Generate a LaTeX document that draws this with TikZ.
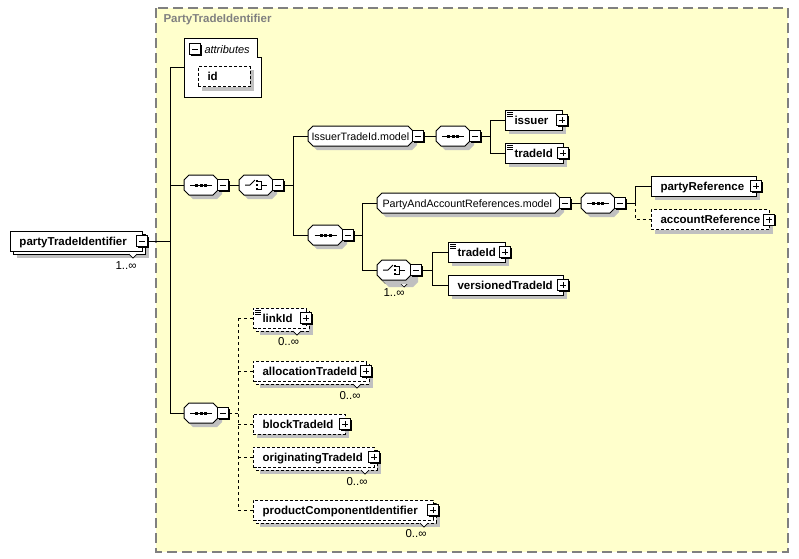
\documentclass[tikz,border=0pt]{standalone}
\usepackage{fontspec}
\setmainfont{Liberation Sans}
\usetikzlibrary{calc}
\definecolor{bgc}{RGB}{255,255,204}
\definecolor{shadowc}{RGB}{192,192,192}
\definecolor{framec}{RGB}{128,128,128}
\tikzset{
  ebox/.style={draw, fill=white, inner sep=0, outer sep=0, minimum height=20pt},
  optb/.style={dash pattern=on 3pt off 2pt},
  optl/.style={dash pattern=on 3pt off 3pt},
  sq/.style={draw, fill=white, inner sep=0, outer sep=0, minimum size=11pt},
  bl/.style={font=\fontsize{11.5}{13}\selectfont\bfseries, inner sep=0},
  rl/.style={font=\fontsize{10.7}{13}\selectfont, inner sep=0},
  il/.style={font=\fontsize{11}{13}\selectfont\itshape, inner sep=0},
  ml/.style={font=\fontsize{11.5}{13}\selectfont, inner sep=0},
  anchorpt/.style={inner sep=0, outer sep=0, minimum height=20pt},
}
% plus / minus box: name, cx, cy, 1=plus 0=minus
\newcommand\sqbox[4]{%
  \fill (#2-4.5,#3-4.5) rectangle (#2+6.5,#3+6.5);
  \node[sq] (#1) at (#2,#3) {};
  \draw (#2-3,#3) -- (#2+3,#3);
  \ifnum#4=1 \draw (#2,#3-3) -- (#2,#3+3);\fi}
% shadow for a single element: x, cy, w
\newcommand\eshadow[3]{\fill[shadowc] (#1+4,#2-6) rectangle (#1+#3+4,#2+14);}
% back copy for a repeated element: x, cy, w, opts
\newcommand\emulti[4]{%
  \fill[shadowc] (#1+7,#2-3) rectangle (#1+#3+7,#2+17);
  \draw[fill=white,#4] (#1+3,#2-7) rectangle (#1+#3+3,#2+13);
  \fill[white] (#1+#3-13,#2+13) -- (#1+#3-9,#2+17) -- (#1+#3-5,#2+13) -- cycle;
  \draw[line width=0.7pt] (#1+#3-13,#2+13) -- (#1+#3-9,#2+17) -- (#1+#3-5,#2+13);}
% element: name, x, cy, w, text, opts, plus(1)/minus(0)
\newcommand\elem[7]{%
  \node[ebox,#6,minimum width=#4pt,anchor=west] (#1) at (#2,#3) {};
  \node[bl,anchor=base west] (#1t) at (#2+9,#3+4) {#5};
  \sqbox{#1p}{#2+#4}{#3}{#7}}
% simple-content icon
\newcommand\simp[2]{%
  \foreach \k in {2.5,4.5,6.5}{\draw[line width=0.8pt] (#1+2,#2-10+\k) -- (#1+8,#2-10+\k);}}
% octagon path: x, cy, w, opts
\newcommand\octp[4]{\path[#4] (#1+5,#2-10) -- (#1+#3-5,#2-10) -- (#1+#3,#2-5) -- (#1+#3,#2+5) -- (#1+#3-5,#2+10) -- (#1+5,#2+10) -- (#1,#2+5) -- (#1,#2-5) -- cycle;}
% octagon: name, x, cy, w
\newcommand\octa[4]{%
  \octp{#2+4}{#3+4}{#4}{fill=shadowc}
  \octp{#2}{#3}{#4}{draw,fill=white}
  \node[anchorpt,minimum width=#4pt,anchor=west] (#1) at (#2,#3) {};
  \sqbox{#1p}{#2+#4+5}{#3}{0}}
% sequence symbol: cx, cy
\newcommand\seqsym[2]{%
  \draw (#1-11,#2) -- (#1+11,#2);
  \fill (#1-6,#2-1.5) rectangle (#1-3,#2+1.5);
  \fill (#1-1.5,#2-1.5) rectangle (#1+1.5,#2+1.5);
  \fill (#1+3,#2-1.5) rectangle (#1+6,#2+1.5);}
% choice symbol: cx, cy
\newcommand\chsym[2]{%
  \draw (#1-11,#2) -- (#1-6,#2) -- (#1-1,#2-5);
  \fill (#1,#2-5) rectangle (#1+2,#2-3);
  \fill (#1,#2-1) rectangle (#1+2,#2+1);
  \fill (#1,#2+3) rectangle (#1+2,#2+5);
  \draw (#1+2,#2-4) -- (#1+5,#2-4) -- (#1+5,#2+4) -- (#1+2,#2+4);
  \draw (#1+5,#2) -- (#1+11,#2);}
\begin{document}
\begin{tikzpicture}[x=1pt,y=-1pt,line width=1pt]
\useasboundingbox (0,0) rectangle (799,558);
% frame
\draw[framec, line width=1.5pt, dash pattern=on 10pt off 5pt, fill=bgc] (156,8) rectangle (788,552);
\node[bl, text=framec, anchor=base west] (title) at (163,22) {PartyTradeIdentifier};
% bus coordinates
\coordinate (b0) at (170,0);
\coordinate (b1) at (293,0);
\coordinate (b2) at (490,0);
\coordinate (b3) at (362,0);
\coordinate (b4) at (635,0);
\coordinate (b5) at (432,0);
\coordinate (b6) at (238,0);
% attributes
\draw[fill=white] (184,38) -- (257,38) -- (257,57) -- (261,57) -- (261,97) -- (184,97) -- cycle;
\node[anchorpt, minimum width=77pt, minimum height=59pt, anchor=north west] (attr) at (184,38) {};
\sqbox{attrm}{195}{49}{0}
\node[il, anchor=base west] (attrt) at (204,53) {attributes};
\fill[shadowc] (202,70) rectangle (254,91);
\node[ebox, optb, minimum width=52pt, anchor=west] (id) at (198,76.5) {};
\node[bl, anchor=base west] (idt) at (207,80.5) {id};
% root
\emulti{10}{241}{132}{}
\elem{root}{10}{241}{132}{partyTradeIdentifier}{}{0}
\node[ml, anchor=base east] (rootm) at (137,269) {1..∞};
% compositors
\octa{seq1}{184}{185}{34}\seqsym{201}{185}
\octa{ch1}{239}{185}{34}\chsym{256}{185}
\octa{itm}{308}{136}{105}
\node[rl, anchor=base west] (itmt) at (311,140) {IssuerTradeId.model};
\octa{seqit}{436}{136}{34}\seqsym{453}{136}
\octa{seq2}{308}{235}{35}\seqsym{325.5}{235}
\octa{pam}{377}{203}{183}
\node[rl, anchor=base west] (pamt) at (382,207) {PartyAndAccountReferences.model};
\octa{seqpam}{581}{203}{34}\seqsym{598}{203}
% repeated choice
\octp{384}{277}{34}{fill=shadowc}
\octp{380}{273}{34}{draw,fill=white}
\fill[white] (400,283) -- (404,287) -- (408,283) -- cycle;
\draw[line width=0.7pt] (400,283) -- (404,287) -- (408,283);
\octa{ch2}{377}{270}{34}\chsym{394}{270}
\node[ml, anchor=base east] (ch2m) at (405,296) {1..∞};
\octa{seq3}{184}{413}{34}\seqsym{201}{413}
% elements
\eshadow{505}{120}{57}
\elem{issuer}{505}{120}{57}{issuer}{}{1}\simp{505}{120}
\eshadow{505}{153}{58}
\elem{trade1}{505}{153}{58}{tradeId}{}{1}\simp{505}{153}
\eshadow{651}{186}{105}
\elem{partyref}{651}{186}{105}{partyReference}{}{1}
\eshadow{651}{219.5}{118}
\elem{acctref}{651}{219.5}{118}{accountReference}{optb}{1}
\eshadow{448}{252}{57}
\elem{trade2}{448}{252}{57}{tradeId}{}{1}\simp{448}{252}
\eshadow{448}{285}{115}
\elem{versioned}{448}{285}{115}{versionedTradeId}{}{1}
\emulti{253}{318}{53}{optb}
\elem{link}{253}{318}{53}{linkId}{optb}{1}\simp{253}{318}
\node[ml, anchor=base east] (linkm) at (299.5,345.5) {0..∞};
\emulti{253}{371}{113}{optb}
\elem{alloc}{253}{371}{113}{allocationTradeId}{optb}{1}
\node[ml, anchor=base east] (allocm) at (361,399) {0..∞};
\eshadow{253}{424}{92}
\elem{block}{253}{424}{92}{blockTradeId}{optb}{1}
\emulti{253}{457}{121}{optb}
\elem{orig}{253}{457}{121}{originatingTradeId}{optb}{1}
\node[ml, anchor=base east] (origm) at (368,485) {0..∞};
\emulti{253}{510}{180}{optb}
\elem{prod}{253}{510}{180}{productComponentIdentifier}{optb}{1}
\node[ml, anchor=base east] (prodm) at (427,537) {0..∞};
% connectors
\draw (rootp.east) -- (rootp.east -| b0);
\draw (attr.west -| b0) -- (seq3.west -| b0);
\draw (attr.west -| b0) -- (attr.west);
\draw (seq1.west -| b0) -- (seq1.west);
\draw (seq3.west -| b0) -- (seq3.west);
\draw (seq1p.east) -- (ch1.west);
\draw (ch1p.east) -- (ch1p.east -| b1);
\draw (itm.west -| b1) -- (seq2.west -| b1);
\draw (itm.west -| b1) -- (itm.west);
\draw (seq2.west -| b1) -- (seq2.west);
\draw (itmp.east) -- (seqit.west);
\draw (seqitp.east) -- (seqitp.east -| b2);
\draw (issuer.west -| b2) -- (trade1.west -| b2);
\draw (issuer.west -| b2) -- (issuer.west);
\draw (trade1.west -| b2) -- (trade1.west);
\draw (seq2p.east) -- (seq2p.east -| b3);
\draw (pam.west -| b3) -- (ch2.west -| b3);
\draw (pam.west -| b3) -- (pam.west);
\draw (ch2.west -| b3) -- (ch2.west);
\draw (pamp.east) -- (seqpam.west);
\draw (seqpamp.east) -- (seqpamp.east -| b4);
\draw (partyref.west -| b4) -- (seqpamp.east -| b4);
\draw (partyref.west -| b4) -- (partyref.west);
\draw[optl] (seqpamp.east -| b4) -- (acctref.west -| b4) -- (acctref.west);
\draw (ch2p.east) -- (ch2p.east -| b5);
\draw (trade2.west -| b5) -- (versioned.west -| b5);
\draw (trade2.west -| b5) -- (trade2.west);
\draw (versioned.west -| b5) -- (versioned.west);
\draw[optl] (seq3p.east) -- (seq3p.east -| b6);
\draw[optl] (link.west -| b6) -- (prod.west -| b6);
\draw[optl] (link.west -| b6) -- (link.west);
\draw[optl] (alloc.west -| b6) -- (alloc.west);
\draw[optl] (block.west -| b6) -- (block.west);
\draw[optl] (orig.west -| b6) -- (orig.west);
\draw[optl] (prod.west -| b6) -- (prod.west);
\end{tikzpicture}
\end{document}
